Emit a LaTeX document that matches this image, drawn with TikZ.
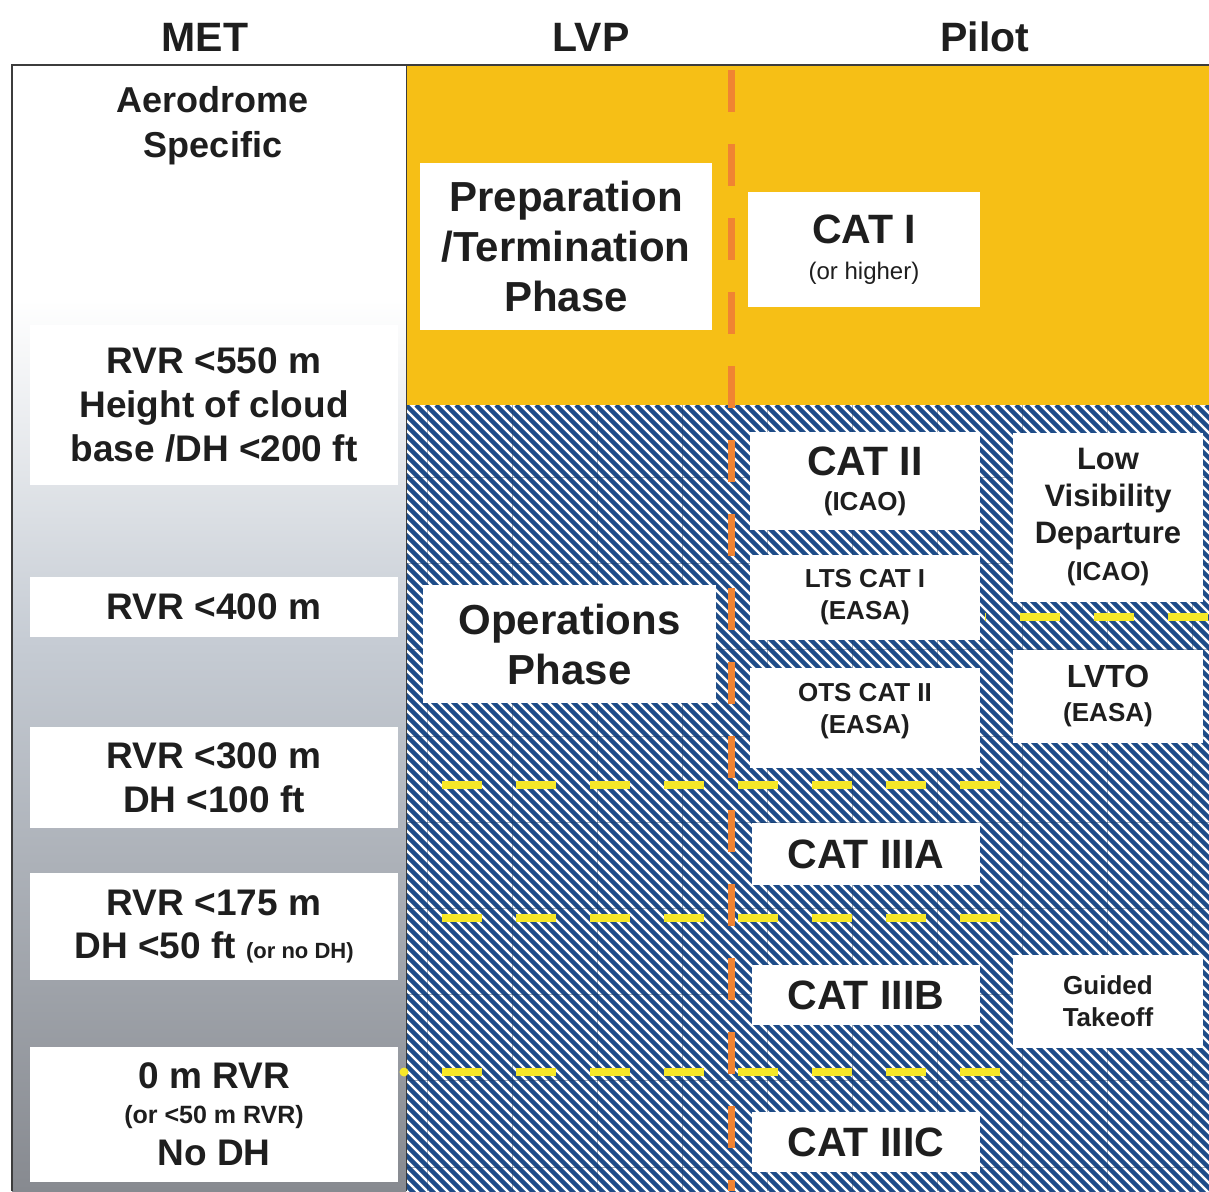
\documentclass[tikz,border=0pt]{standalone}
\usepackage{fontspec}
\setmainfont{Liberation Sans}
\definecolor{txt}{RGB}{30,30,30}
\definecolor{ylw}{RGB}{246,191,22}
\definecolor{hatchblue}{RGB}{30,76,136}
\definecolor{orangedash}{RGB}{240,132,50}
\definecolor{yellowdash}{RGB}{246,232,40}
\definecolor{gmid}{RGB}{198,204,212}
\definecolor{gbot}{RGB}{135,138,144}
\definecolor{frame}{RGB}{60,60,60}
\newcommand\fsz[2]{\fontsize{#1}{#2}\selectfont}
\tikzset{
  box/.style={fill=white, inner sep=0pt, align=center, text=txt},
  hdr/.style={inner sep=0pt, text=txt, font=\bfseries\fsz{41}{41}},
  ydash/.style={draw=yellowdash, line width=8pt, dash pattern=on 40pt off 34pt},
  odash/.style={draw=orangedash, line width=7pt, dash pattern=on 42pt off 32pt, dash phase=69pt},
}
\begin{document}
\begin{tikzpicture}[x=1pt,y=-1pt]
\useasboundingbox (0,0) rectangle (1209,1191);
\fill[white] (0,0) rectangle (1209,1191);
% left column background
\fill[white] (12,65) rectangle (406,300);
\shade[top color=white, bottom color=gmid] (12,300) rectangle (406,640);
\shade[top color=gmid, bottom color=gbot] (12,640) rectangle (406,1191);
% yellow area
\fill[ylw] (406,65) rectangle (1209,405);
% hatched area
\begin{scope}
  \clip (406,405) rectangle (1209,1191);
  \fill[white] (406,405) rectangle (1209,1191);
  \foreach \i in {-800,-790,...,810}
    \draw[hatchblue, line width=4.3pt] (406+\i,405) -- ++(800,800);
  \foreach \gx in {427,512,597,682,767,852,937,1022,1107,1192}
    \draw[hatchblue!70!black, line width=1pt, opacity=0.4] (\gx,405) -- (\gx,1191);
  \foreach \gy in {477,563,649,736,822,908,994,1080,1167}
    \draw[hatchblue!70!black, line width=1pt, opacity=0.4] (406,\gy) -- (1209,\gy);
\end{scope}
% frame
\draw[frame, line width=2pt] (12,1191) -- (12,65) -- (1209,65);
\draw[frame, line width=1pt] (406,65) -- (406,1191);
% headers
\node[hdr] (hmet) at (205,37) {MET};
\node[hdr] (hlvp) at (591,37) {LVP};
\node[hdr] (hpilot) at (985,37) {Pilot};
% yellow dashed lines
\coordinate (y1a) at (442,785); \coordinate (y1b) at (1002,785);
\coordinate (y2a) at (442,918); \coordinate (y2b) at (1002,918);
\coordinate (y3a) at (442,1072); \coordinate (y3b) at (1002,1072);
\coordinate (y4a) at (985,617); \coordinate (y4b) at (1209,617);
\draw[ydash] (y1a) -- (y1b);
\draw[ydash] (y2a) -- (y2b);
\draw[ydash] (y3a) -- (y3b);
\draw[ydash, dash phase=39pt] (y4a) -- (y4b);
\fill[yellowdash] (404,1072) circle (4.5pt);
% orange dashed vertical
\coordinate (o1) at (731,65); \coordinate (o2) at (731,1191);
\draw[odash] (o1) -- (o2);
% MET column
\node[box, fill=none, font=\bfseries\fsz{36}{45}] (aero) at (213,126) {Aerodrome\\Specific};
\node[box, minimum width=368, minimum height=160, font=\bfseries\fsz{37}{44}] (m550) at (214,405)
  {RVR <550 m\\Height of cloud\\base /DH <200 ft};
\node[box, minimum width=368, minimum height=60, font=\bfseries\fsz{37}{44}] (m400) at (214,607)
  {RVR <400 m};
\node[box, minimum width=368, minimum height=101, font=\bfseries\fsz{37}{44}] (m300) at (214,777.5)
  {RVR <300 m\\DH <100 ft};
\node[box, minimum width=368, minimum height=107, font=\bfseries\fsz{37}{43}] (m175) at (214,926.5)
  {RVR <175 m\\DH <50 ft {\fsz{22}{22}(or no DH)}};
\node[box, minimum width=368, minimum height=135, font=\bfseries\fsz{37}{35}] (m0) at (214,1114)
  {0 m RVR\\{\fsz{25}{25}(or <50 m RVR)}\\[7pt]No DH};
% LVP column
\node[box, minimum width=292, minimum height=167, font=\bfseries\fsz{42}{50}] (prep) at (566,246.5)
  {Preparation\\/Termination\\Phase};
\node[box, minimum width=293, minimum height=118, font=\bfseries\fsz{42}{50}] (ops) at (569.5,644)
  {Operations\\Phase};
% Pilot column
\node[box, minimum width=232, minimum height=115, font=\bfseries\fsz{41}{36}] (cat1) at (864,249.5)
  {CAT I\\{\mdseries\fsz{24}{24}(or higher)}};
\node[box, minimum width=230, minimum height=98, font=\bfseries\fsz{41}{35}] (cat2) at (865,481)
  {CAT II\\{\fsz{26}{26}(ICAO)}};
\node[box, minimum width=230, minimum height=85, font=\bfseries\fsz{26}{32}] (lts) at (865,597.5)
  {LTS CAT I\\(EASA)};
\node[box, minimum width=230, minimum height=100, font=\bfseries\fsz{26}{32}] (ots) at (865,718)
  {OTS CAT II\\(EASA)\\[-12pt]};
\node[box, minimum width=228, minimum height=62, font=\bfseries\fsz{41}{41}] (c3a) at (866,854)
  {CAT IIIA};
\node[box, minimum width=228, minimum height=60, font=\bfseries\fsz{41}{41}] (c3b) at (866,995)
  {CAT IIIB};
\node[box, minimum width=228, minimum height=60, font=\bfseries\fsz{41}{41}] (c3c) at (866,1142)
  {CAT IIIC};
\node[box, minimum width=190, minimum height=169, font=\bfseries\fsz{31}{37}] (lvd) at (1108,517.5)
  {Low\\Visibility\\Departure\\{\fsz{26}{26}(ICAO)}};
\node[box, minimum width=190, minimum height=93, font=\bfseries\fsz{32}{34}] (lvto) at (1108,696.5)
  {LVTO\\{\fsz{26}{26}(EASA)}};
\node[box, minimum width=190, minimum height=93, font=\bfseries\fsz{26}{32}] (guided) at (1108,1001.5)
  {Guided\\Takeoff};
\end{tikzpicture}
\end{document}
